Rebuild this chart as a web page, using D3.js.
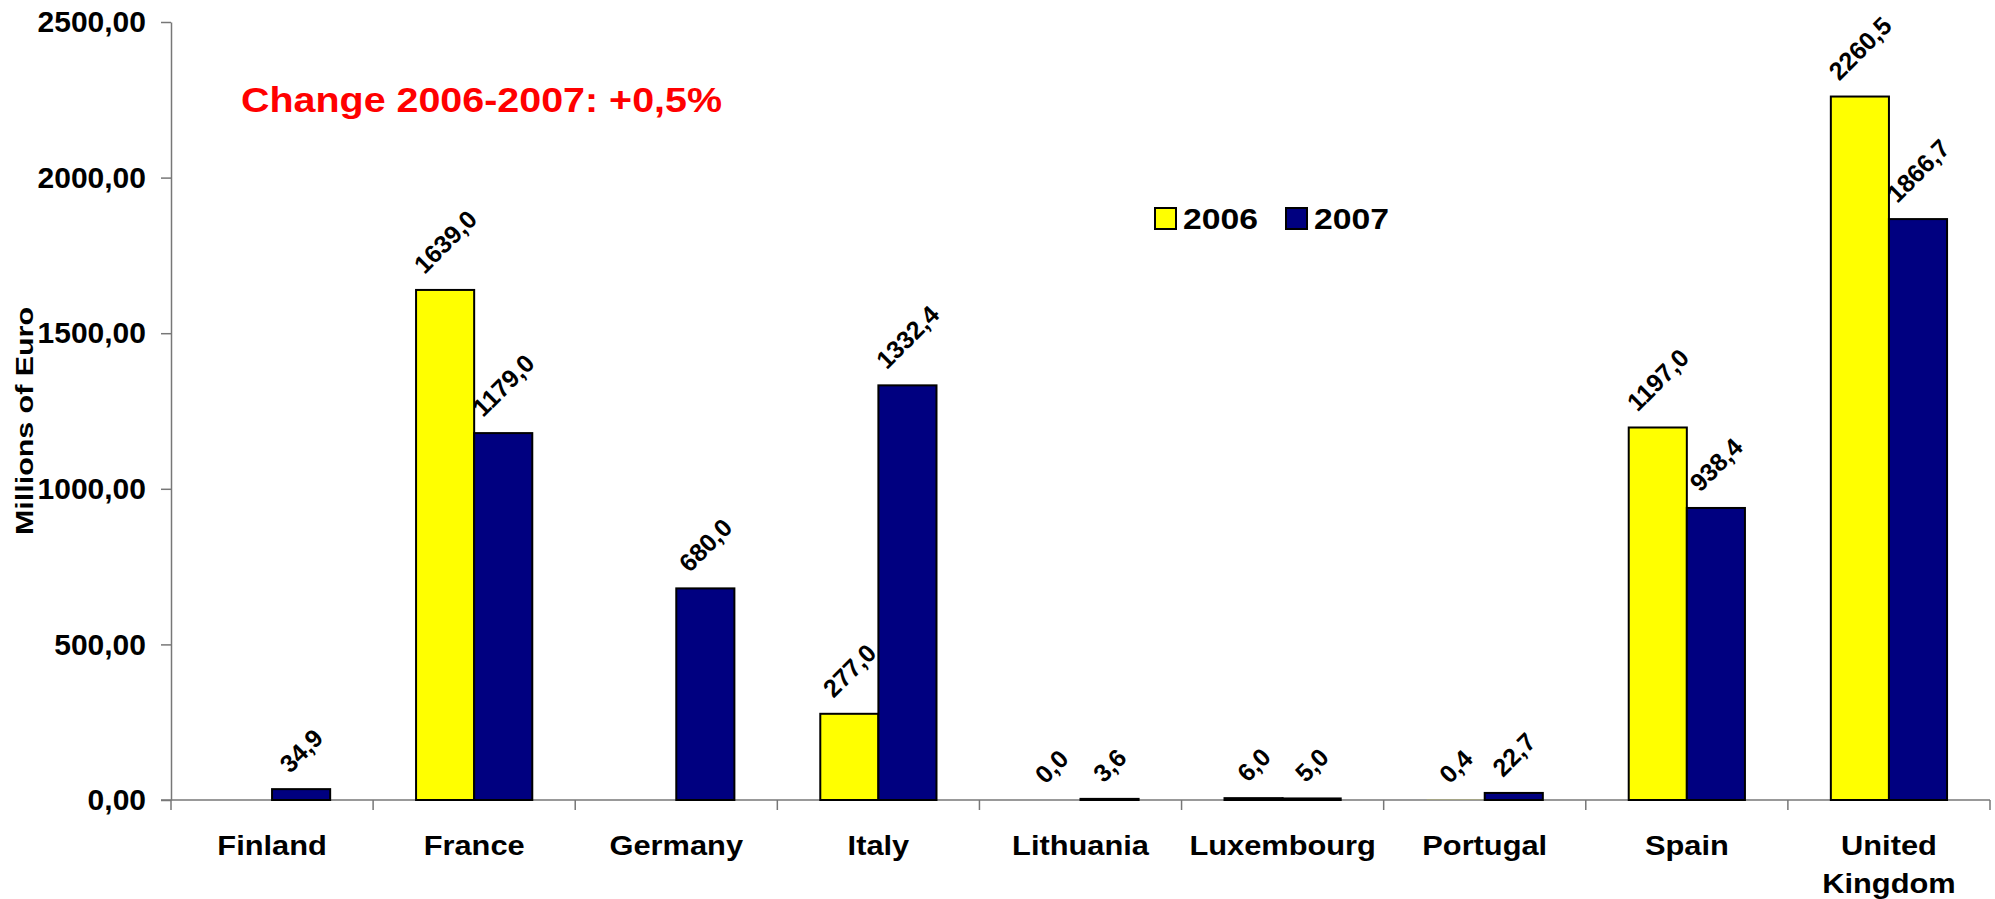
<!DOCTYPE html>
<html>
<head>
<meta charset="utf-8">
<script src="https://cdn.jsdelivr.net/npm/d3@7"></script>
<style>
  body { margin: 0; background: #fff; }
  text { font-family: Arial, 'Liberation Sans', sans-serif; font-weight: bold; }
</style>
</head>
<body>
<script>
let categories = ['Finland', 'France', 'Germany', 'Italy', 'Lithuania', 'Luxembourg', 'Portugal', 'Spain', 'United Kingdom'];
let years = ['2006', '2007'];
let values2006 = [null, 1639.0, null, 277.0, 0.0, 6.0, 0.4, 1197.0, 2260.5];
let values2007 = [34.9, 1179.0, 680.0, 1332.4, 3.6, 5.0, 22.7, 938.4, 1866.7];
let yTicks = [0, 500, 1000, 1500, 2000, 2500];
let colors = ['#ffff00', '#000080'];
let titleText = 'Change 2006-2007: +0,5%';
let yLabel = 'Millions of Euro';

let width = 1995, height = 899;
let plotLeft = 171, plotRight = 1990, plotTop = 22, plotBottom = 800;

let svg = d3.select('body').append('svg').attr('width', width).attr('height', height);

let locale = d3.formatLocale({decimal: ',', thousands: '', grouping: [3], currency: ['', '']});
let fmtAxis = locale.format('.2f');
let fmtVal = locale.format('.1f');

let x0 = d3.scaleBand().domain(categories).range([plotLeft, plotRight]).padding(0);
let x1 = d3.scaleBand().domain(years)
  .range([x0.bandwidth() * 0.2125, x0.bandwidth() * 0.7875]).padding(0);
let y = d3.scaleLinear().domain([0, 2500]).range([plotBottom, plotTop]);
let color = d3.scaleOrdinal().domain(years).range(colors);

let rows = categories.map(function(c, i) {
  return {cat: c, vals: [{year: '2006', v: values2006[i]}, {year: '2007', v: values2007[i]}]};
});

// y axis
let yAxis = svg.append('g')
  .attr('transform', 'translate(' + plotLeft + ',0)')
  .call(d3.axisLeft(y).tickValues(yTicks).tickFormat(fmtAxis).tickSizeInner(10).tickSizeOuter(0).tickPadding(15));
yAxis.select('.domain').attr('stroke', '#777').attr('stroke-width', 1.5);
yAxis.selectAll('.tick line').attr('stroke', '#777').attr('stroke-width', 1.5);
yAxis.selectAll('.tick text').attr('font-size', '30px').attr('fill', '#000')
  .attr('font-family', "Arial, 'Liberation Sans', sans-serif");

// x axis line and ticks at band boundaries
let bounds = categories.map(function(c) { return x0(c); }).concat([plotRight]);
svg.append('line')
  .attr('x1', plotLeft - 10).attr('x2', plotRight)
  .attr('y1', y(0)).attr('y2', y(0))
  .attr('stroke', '#777').attr('stroke-width', 1.5);
svg.selectAll('.xtick').data(bounds).enter().append('line')
  .attr('class', 'xtick')
  .attr('x1', function(d) { return d; }).attr('x2', function(d) { return d; })
  .attr('y1', y(0)).attr('y2', y(0) + 10)
  .attr('stroke', '#777').attr('stroke-width', 1.5);

// category labels
let catLabels = svg.selectAll('.cat').data(categories).enter().append('text')
  .attr('class', 'cat')
  .attr('transform', function(d) { return 'translate(' + (x0(d) + x0.bandwidth() / 2) + ',855) scale(1.1,1)'; })
  .attr('text-anchor', 'middle')
  .attr('font-size', '28px')
  .attr('fill', '#000');
catLabels.each(function(d) {
  let t = d3.select(this);
  t.text(d);
  if (this.getComputedTextLength() * 1.1 > x0.bandwidth() * 0.95) {
    t.text(null);
    d.split(' ').forEach(function(w, i) {
      t.append('tspan').attr('x', 0).attr('dy', i === 0 ? 0 : 38).text(w);
    });
  }
});

// bars
let groups = svg.selectAll('.grp').data(rows).enter().append('g')
  .attr('class', 'grp')
  .attr('transform', function(d) { return 'translate(' + x0(d.cat) + ',0)'; });

groups.selectAll('rect').data(function(d) { return d.vals.filter(function(v) { return v.v !== null; }); })
  .enter().append('rect')
  .attr('x', function(d) { return x1(d.year); })
  .attr('width', x1.bandwidth())
  .attr('y', function(d) { return y(d.v); })
  .attr('height', function(d) { return y(0) - y(d.v); })
  .attr('fill', function(d) { return color(d.year); })
  .attr('stroke', function(d) { return (y(0) - y(d.v)) < 0.5 ? 'none' : '#000'; })
  .attr('stroke-width', 2);

// value labels, rotated
groups.selectAll('.val').data(function(d) { return d.vals.filter(function(v) { return v.v !== null; }); })
  .enter().append('text')
  .attr('class', 'val')
  .attr('font-size', '25px')
  .attr('fill', '#000')
  .attr('text-anchor', 'middle')
  .attr('dominant-baseline', 'central')
  .text(function(d) { return fmtVal(d.v); })
  .attr('transform', function(d) {
    let len = this.getComputedTextLength();
    let half = (len + 18) / (2 * Math.SQRT2);
    let cx = x1(d.year) + x1.bandwidth() / 2;
    let cy = y(d.v) - 15 - half;
    return 'translate(' + cx + ',' + cy + ') rotate(-45)';
  });

// y axis title
svg.append('text')
  .attr('transform', 'translate(33,421) rotate(-90)')
  .attr('text-anchor', 'middle')
  .attr('font-size', '23px')
  .attr('textLength', 228)
  .attr('lengthAdjust', 'spacingAndGlyphs')
  .attr('fill', '#000')
  .text(yLabel);

// change note
svg.append('text')
  .attr('x', 241).attr('y', 112)
  .attr('font-size', '35px')
  .attr('textLength', 481)
  .attr('lengthAdjust', 'spacingAndGlyphs')
  .attr('fill', '#ff0000')
  .text(titleText);

// legend
let legendX = [1155, 1286];
let legend = svg.selectAll('.leg').data(years).enter().append('g')
  .attr('class', 'leg')
  .attr('transform', function(d, i) { return 'translate(' + legendX[i] + ',208)'; });
legend.append('rect')
  .attr('width', 21).attr('height', 21)
  .attr('fill', function(d) { return color(d); })
  .attr('stroke', '#000').attr('stroke-width', 2);
legend.append('text')
  .attr('x', 28).attr('y', 21)
  .attr('font-size', '29px')
  .attr('textLength', 75)
  .attr('lengthAdjust', 'spacingAndGlyphs')
  .attr('fill', '#000')
  .text(function(d) { return d; });
</script>
</body>
</html>
